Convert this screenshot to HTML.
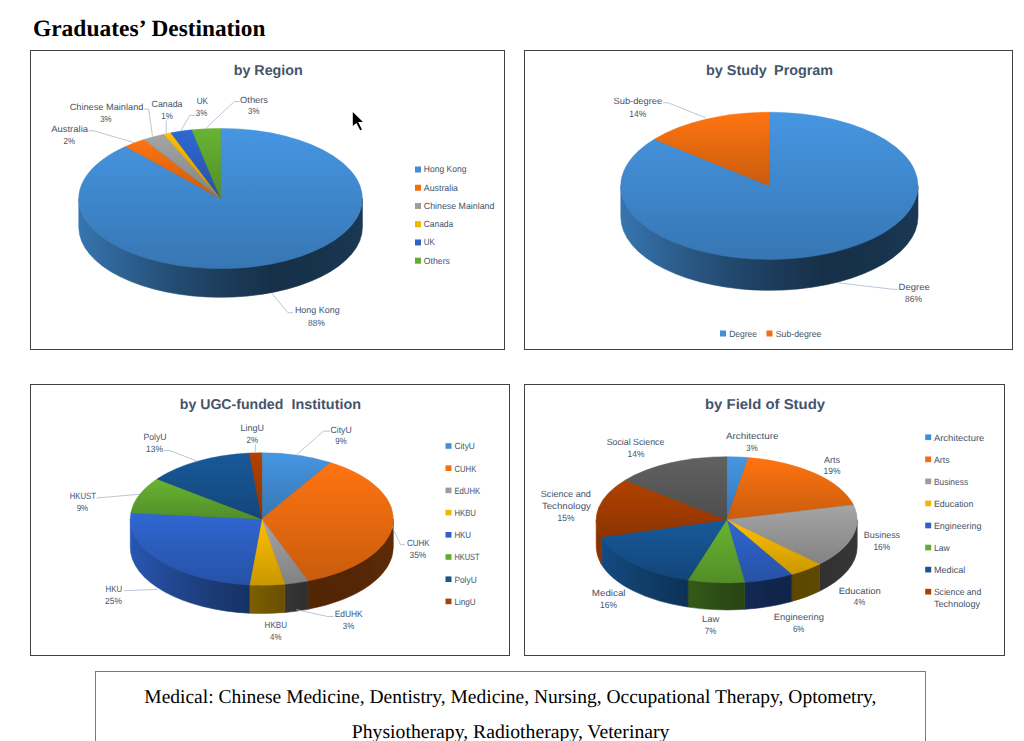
<!DOCTYPE html>
<html><head><meta charset="utf-8"><title>Graduates' Destination</title>
<style>
html,body{margin:0;padding:0;background:#fff;}
body{width:1024px;height:741px;overflow:hidden;font-family:"Liberation Sans",sans-serif;}
svg{display:block;}
text{white-space:pre;text-rendering:geometricPrecision;}
</style></head><body>
<svg width="1024" height="741" viewBox="0 0 1024 741">
<defs>
<linearGradient id="t1orange" x1="0" y1="0" x2="0" y2="1"><stop offset="0" stop-color="#ff7411"/><stop offset="1" stop-color="#c95c0d"/></linearGradient>
<linearGradient id="s1orange" gradientUnits="userSpaceOnUse" x1="78.79999999999998" y1="0" x2="362.4" y2="0"><stop offset="0.0" stop-color="#c75a0d"/><stop offset="0.15" stop-color="#a64b0b"/><stop offset="0.35" stop-color="#803a08"/><stop offset="0.5" stop-color="#693007"/><stop offset="0.68" stop-color="#522505"/><stop offset="0.85" stop-color="#542606"/><stop offset="1.0" stop-color="#5e2b06"/></linearGradient>
<linearGradient id="t1yellow" x1="0" y1="0" x2="0" y2="1"><stop offset="0" stop-color="#ffc000"/><stop offset="1" stop-color="#c99800"/></linearGradient>
<linearGradient id="s1yellow" gradientUnits="userSpaceOnUse" x1="78.79999999999998" y1="0" x2="362.4" y2="0"><stop offset="0.0" stop-color="#e1a900"/><stop offset="0.15" stop-color="#bb8d00"/><stop offset="0.35" stop-color="#906c00"/><stop offset="0.5" stop-color="#765900"/><stop offset="0.68" stop-color="#5c4500"/><stop offset="0.85" stop-color="#5f4800"/><stop offset="1.0" stop-color="#6b5000"/></linearGradient>
<linearGradient id="t1blue" x1="0" y1="0" x2="0" y2="1"><stop offset="0" stop-color="#4696e2"/><stop offset="1" stop-color="#3776b3"/></linearGradient>
<linearGradient id="s1blue" gradientUnits="userSpaceOnUse" x1="78.79999999999998" y1="0" x2="362.4" y2="0"><stop offset="0.0" stop-color="#3775b0"/><stop offset="0.15" stop-color="#2e6293"/><stop offset="0.35" stop-color="#234b71"/><stop offset="0.5" stop-color="#1d3d5d"/><stop offset="0.68" stop-color="#163048"/><stop offset="0.85" stop-color="#17324b"/><stop offset="1.0" stop-color="#1a3854"/></linearGradient>
<linearGradient id="t1green" x1="0" y1="0" x2="0" y2="1"><stop offset="0" stop-color="#68b432"/><stop offset="1" stop-color="#528e28"/></linearGradient>
<linearGradient id="s1green" gradientUnits="userSpaceOnUse" x1="78.79999999999998" y1="0" x2="362.4" y2="0"><stop offset="0.0" stop-color="#518c27"/><stop offset="0.15" stop-color="#447520"/><stop offset="0.35" stop-color="#345a19"/><stop offset="0.5" stop-color="#2b4a14"/><stop offset="0.68" stop-color="#213a10"/><stop offset="0.85" stop-color="#223b10"/><stop offset="1.0" stop-color="#264312"/></linearGradient>
<linearGradient id="t1blue2" x1="0" y1="0" x2="0" y2="1"><stop offset="0" stop-color="#3067d2"/><stop offset="1" stop-color="#2651a6"/></linearGradient>
<linearGradient id="s1blue2" gradientUnits="userSpaceOnUse" x1="78.79999999999998" y1="0" x2="362.4" y2="0"><stop offset="0.0" stop-color="#2857b1"/><stop offset="0.15" stop-color="#224893"/><stop offset="0.35" stop-color="#1a3871"/><stop offset="0.5" stop-color="#152e5d"/><stop offset="0.68" stop-color="#112449"/><stop offset="0.85" stop-color="#11254b"/><stop offset="1.0" stop-color="#132954"/></linearGradient>
<linearGradient id="t1gray" x1="0" y1="0" x2="0" y2="1"><stop offset="0" stop-color="#a5a5a5"/><stop offset="1" stop-color="#828282"/></linearGradient>
<linearGradient id="s1gray" gradientUnits="userSpaceOnUse" x1="78.79999999999998" y1="0" x2="362.4" y2="0"><stop offset="0.0" stop-color="#717171"/><stop offset="0.15" stop-color="#5e5e5e"/><stop offset="0.35" stop-color="#494949"/><stop offset="0.5" stop-color="#3c3c3c"/><stop offset="0.68" stop-color="#2e2e2e"/><stop offset="0.85" stop-color="#303030"/><stop offset="1.0" stop-color="#363636"/></linearGradient>
<linearGradient id="t2orange" x1="0" y1="0" x2="0" y2="1"><stop offset="0" stop-color="#ff7411"/><stop offset="1" stop-color="#c95c0d"/></linearGradient>
<linearGradient id="s2orange" gradientUnits="userSpaceOnUse" x1="620.8" y1="0" x2="918.0" y2="0"><stop offset="0.0" stop-color="#c75a0d"/><stop offset="0.15" stop-color="#a64b0b"/><stop offset="0.35" stop-color="#803a08"/><stop offset="0.5" stop-color="#693007"/><stop offset="0.68" stop-color="#522505"/><stop offset="0.85" stop-color="#542606"/><stop offset="1.0" stop-color="#5e2b06"/></linearGradient>
<linearGradient id="t2blue" x1="0" y1="0" x2="0" y2="1"><stop offset="0" stop-color="#4696e2"/><stop offset="1" stop-color="#3776b3"/></linearGradient>
<linearGradient id="s2blue" gradientUnits="userSpaceOnUse" x1="620.8" y1="0" x2="918.0" y2="0"><stop offset="0.0" stop-color="#3775b0"/><stop offset="0.15" stop-color="#2e6293"/><stop offset="0.35" stop-color="#234b71"/><stop offset="0.5" stop-color="#1d3d5d"/><stop offset="0.68" stop-color="#163048"/><stop offset="0.85" stop-color="#17324b"/><stop offset="1.0" stop-color="#1a3854"/></linearGradient>
<linearGradient id="t3orange" x1="0" y1="0" x2="0" y2="1"><stop offset="0" stop-color="#ff7411"/><stop offset="1" stop-color="#c95c0d"/></linearGradient>
<linearGradient id="s3orange" gradientUnits="userSpaceOnUse" x1="130.3" y1="0" x2="393.3" y2="0"><stop offset="0.0" stop-color="#c75a0d"/><stop offset="0.15" stop-color="#a64b0b"/><stop offset="0.35" stop-color="#803a08"/><stop offset="0.5" stop-color="#693007"/><stop offset="0.68" stop-color="#522505"/><stop offset="0.85" stop-color="#542606"/><stop offset="1.0" stop-color="#5e2b06"/></linearGradient>
<linearGradient id="t3dblue" x1="0" y1="0" x2="0" y2="1"><stop offset="0" stop-color="#18599a"/><stop offset="1" stop-color="#13467a"/></linearGradient>
<linearGradient id="s3dblue" gradientUnits="userSpaceOnUse" x1="130.3" y1="0" x2="393.3" y2="0"><stop offset="0.0" stop-color="#154c84"/><stop offset="0.15" stop-color="#11406e"/><stop offset="0.35" stop-color="#0d3155"/><stop offset="0.5" stop-color="#0b2845"/><stop offset="0.68" stop-color="#081f36"/><stop offset="0.85" stop-color="#092038"/><stop offset="1.0" stop-color="#0a243f"/></linearGradient>
<linearGradient id="t3yellow" x1="0" y1="0" x2="0" y2="1"><stop offset="0" stop-color="#ffc000"/><stop offset="1" stop-color="#c99800"/></linearGradient>
<linearGradient id="s3yellow" gradientUnits="userSpaceOnUse" x1="130.3" y1="0" x2="393.3" y2="0"><stop offset="0.0" stop-color="#e1a900"/><stop offset="0.15" stop-color="#bb8d00"/><stop offset="0.35" stop-color="#906c00"/><stop offset="0.5" stop-color="#765900"/><stop offset="0.68" stop-color="#5c4500"/><stop offset="0.85" stop-color="#5f4800"/><stop offset="1.0" stop-color="#6b5000"/></linearGradient>
<linearGradient id="t3dorange" x1="0" y1="0" x2="0" y2="1"><stop offset="0" stop-color="#b24200"/><stop offset="1" stop-color="#8d3400"/></linearGradient>
<linearGradient id="s3dorange" gradientUnits="userSpaceOnUse" x1="130.3" y1="0" x2="393.3" y2="0"><stop offset="0.0" stop-color="#8b3300"/><stop offset="0.15" stop-color="#742b00"/><stop offset="0.35" stop-color="#592100"/><stop offset="0.5" stop-color="#491b00"/><stop offset="0.68" stop-color="#391500"/><stop offset="0.85" stop-color="#3b1600"/><stop offset="1.0" stop-color="#421800"/></linearGradient>
<linearGradient id="t3blue" x1="0" y1="0" x2="0" y2="1"><stop offset="0" stop-color="#4696e2"/><stop offset="1" stop-color="#3776b3"/></linearGradient>
<linearGradient id="s3blue" gradientUnits="userSpaceOnUse" x1="130.3" y1="0" x2="393.3" y2="0"><stop offset="0.0" stop-color="#3775b0"/><stop offset="0.15" stop-color="#2e6293"/><stop offset="0.35" stop-color="#234b71"/><stop offset="0.5" stop-color="#1d3d5d"/><stop offset="0.68" stop-color="#163048"/><stop offset="0.85" stop-color="#17324b"/><stop offset="1.0" stop-color="#1a3854"/></linearGradient>
<linearGradient id="t3green" x1="0" y1="0" x2="0" y2="1"><stop offset="0" stop-color="#68b432"/><stop offset="1" stop-color="#528e28"/></linearGradient>
<linearGradient id="s3green" gradientUnits="userSpaceOnUse" x1="130.3" y1="0" x2="393.3" y2="0"><stop offset="0.0" stop-color="#518c27"/><stop offset="0.15" stop-color="#447520"/><stop offset="0.35" stop-color="#345a19"/><stop offset="0.5" stop-color="#2b4a14"/><stop offset="0.68" stop-color="#213a10"/><stop offset="0.85" stop-color="#223b10"/><stop offset="1.0" stop-color="#264312"/></linearGradient>
<linearGradient id="t3blue2" x1="0" y1="0" x2="0" y2="1"><stop offset="0" stop-color="#3067d2"/><stop offset="1" stop-color="#2651a6"/></linearGradient>
<linearGradient id="s3blue2" gradientUnits="userSpaceOnUse" x1="130.3" y1="0" x2="393.3" y2="0"><stop offset="0.0" stop-color="#2857b1"/><stop offset="0.15" stop-color="#224893"/><stop offset="0.35" stop-color="#1a3871"/><stop offset="0.5" stop-color="#152e5d"/><stop offset="0.68" stop-color="#112449"/><stop offset="0.85" stop-color="#11254b"/><stop offset="1.0" stop-color="#132954"/></linearGradient>
<linearGradient id="t3gray" x1="0" y1="0" x2="0" y2="1"><stop offset="0" stop-color="#a5a5a5"/><stop offset="1" stop-color="#828282"/></linearGradient>
<linearGradient id="s3gray" gradientUnits="userSpaceOnUse" x1="130.3" y1="0" x2="393.3" y2="0"><stop offset="0.0" stop-color="#717171"/><stop offset="0.15" stop-color="#5e5e5e"/><stop offset="0.35" stop-color="#494949"/><stop offset="0.5" stop-color="#3c3c3c"/><stop offset="0.68" stop-color="#2e2e2e"/><stop offset="0.85" stop-color="#303030"/><stop offset="1.0" stop-color="#363636"/></linearGradient>
<linearGradient id="t4orange" x1="0" y1="0" x2="0" y2="1"><stop offset="0" stop-color="#ff7411"/><stop offset="1" stop-color="#c95c0d"/></linearGradient>
<linearGradient id="s4orange" gradientUnits="userSpaceOnUse" x1="596.2" y1="0" x2="857.2" y2="0"><stop offset="0.0" stop-color="#c75a0d"/><stop offset="0.15" stop-color="#a64b0b"/><stop offset="0.35" stop-color="#803a08"/><stop offset="0.5" stop-color="#693007"/><stop offset="0.68" stop-color="#522505"/><stop offset="0.85" stop-color="#542606"/><stop offset="1.0" stop-color="#5e2b06"/></linearGradient>
<linearGradient id="t4dblue" x1="0" y1="0" x2="0" y2="1"><stop offset="0" stop-color="#18599a"/><stop offset="1" stop-color="#13467a"/></linearGradient>
<linearGradient id="s4dblue" gradientUnits="userSpaceOnUse" x1="596.2" y1="0" x2="857.2" y2="0"><stop offset="0.0" stop-color="#154c84"/><stop offset="0.15" stop-color="#11406e"/><stop offset="0.35" stop-color="#0d3155"/><stop offset="0.5" stop-color="#0b2845"/><stop offset="0.68" stop-color="#081f36"/><stop offset="0.85" stop-color="#092038"/><stop offset="1.0" stop-color="#0a243f"/></linearGradient>
<linearGradient id="t4dgray" x1="0" y1="0" x2="0" y2="1"><stop offset="0" stop-color="#616161"/><stop offset="1" stop-color="#4d4d4d"/></linearGradient>
<linearGradient id="s4dgray" gradientUnits="userSpaceOnUse" x1="596.2" y1="0" x2="857.2" y2="0"><stop offset="0.0" stop-color="#4c4c4c"/><stop offset="0.15" stop-color="#3f3f3f"/><stop offset="0.35" stop-color="#303030"/><stop offset="0.5" stop-color="#282828"/><stop offset="0.68" stop-color="#1f1f1f"/><stop offset="0.85" stop-color="#202020"/><stop offset="1.0" stop-color="#242424"/></linearGradient>
<linearGradient id="t4yellow" x1="0" y1="0" x2="0" y2="1"><stop offset="0" stop-color="#ffc000"/><stop offset="1" stop-color="#c99800"/></linearGradient>
<linearGradient id="s4yellow" gradientUnits="userSpaceOnUse" x1="596.2" y1="0" x2="857.2" y2="0"><stop offset="0.0" stop-color="#e1a900"/><stop offset="0.15" stop-color="#bb8d00"/><stop offset="0.35" stop-color="#906c00"/><stop offset="0.5" stop-color="#765900"/><stop offset="0.68" stop-color="#5c4500"/><stop offset="0.85" stop-color="#5f4800"/><stop offset="1.0" stop-color="#6b5000"/></linearGradient>
<linearGradient id="t4dorange" x1="0" y1="0" x2="0" y2="1"><stop offset="0" stop-color="#b24200"/><stop offset="1" stop-color="#8d3400"/></linearGradient>
<linearGradient id="s4dorange" gradientUnits="userSpaceOnUse" x1="596.2" y1="0" x2="857.2" y2="0"><stop offset="0.0" stop-color="#8b3300"/><stop offset="0.15" stop-color="#742b00"/><stop offset="0.35" stop-color="#592100"/><stop offset="0.5" stop-color="#491b00"/><stop offset="0.68" stop-color="#391500"/><stop offset="0.85" stop-color="#3b1600"/><stop offset="1.0" stop-color="#421800"/></linearGradient>
<linearGradient id="t4blue" x1="0" y1="0" x2="0" y2="1"><stop offset="0" stop-color="#4696e2"/><stop offset="1" stop-color="#3776b3"/></linearGradient>
<linearGradient id="s4blue" gradientUnits="userSpaceOnUse" x1="596.2" y1="0" x2="857.2" y2="0"><stop offset="0.0" stop-color="#3775b0"/><stop offset="0.15" stop-color="#2e6293"/><stop offset="0.35" stop-color="#234b71"/><stop offset="0.5" stop-color="#1d3d5d"/><stop offset="0.68" stop-color="#163048"/><stop offset="0.85" stop-color="#17324b"/><stop offset="1.0" stop-color="#1a3854"/></linearGradient>
<linearGradient id="t4green" x1="0" y1="0" x2="0" y2="1"><stop offset="0" stop-color="#68b432"/><stop offset="1" stop-color="#528e28"/></linearGradient>
<linearGradient id="s4green" gradientUnits="userSpaceOnUse" x1="596.2" y1="0" x2="857.2" y2="0"><stop offset="0.0" stop-color="#518c27"/><stop offset="0.15" stop-color="#447520"/><stop offset="0.35" stop-color="#345a19"/><stop offset="0.5" stop-color="#2b4a14"/><stop offset="0.68" stop-color="#213a10"/><stop offset="0.85" stop-color="#223b10"/><stop offset="1.0" stop-color="#264312"/></linearGradient>
<linearGradient id="t4blue2" x1="0" y1="0" x2="0" y2="1"><stop offset="0" stop-color="#3067d2"/><stop offset="1" stop-color="#2651a6"/></linearGradient>
<linearGradient id="s4blue2" gradientUnits="userSpaceOnUse" x1="596.2" y1="0" x2="857.2" y2="0"><stop offset="0.0" stop-color="#2857b1"/><stop offset="0.15" stop-color="#224893"/><stop offset="0.35" stop-color="#1a3871"/><stop offset="0.5" stop-color="#152e5d"/><stop offset="0.68" stop-color="#112449"/><stop offset="0.85" stop-color="#11254b"/><stop offset="1.0" stop-color="#132954"/></linearGradient>
<linearGradient id="t4gray" x1="0" y1="0" x2="0" y2="1"><stop offset="0" stop-color="#a5a5a5"/><stop offset="1" stop-color="#828282"/></linearGradient>
<linearGradient id="s4gray" gradientUnits="userSpaceOnUse" x1="596.2" y1="0" x2="857.2" y2="0"><stop offset="0.0" stop-color="#717171"/><stop offset="0.15" stop-color="#5e5e5e"/><stop offset="0.35" stop-color="#494949"/><stop offset="0.5" stop-color="#3c3c3c"/><stop offset="0.68" stop-color="#2e2e2e"/><stop offset="0.85" stop-color="#303030"/><stop offset="1.0" stop-color="#363636"/></linearGradient>
</defs>
<rect x="30.5" y="50.5" width="474" height="299" fill="#fff" stroke="#404040" stroke-width="1"/>
<rect x="524.5" y="50.5" width="488" height="299" fill="#fff" stroke="#404040" stroke-width="1"/>
<rect x="30.5" y="384.5" width="479" height="271" fill="#fff" stroke="#404040" stroke-width="1"/>
<rect x="524.5" y="384.5" width="480" height="271" fill="#fff" stroke="#404040" stroke-width="1"/>
<rect x="95.5" y="671.5" width="830" height="89" fill="#fff" stroke="#7a7a7a" stroke-width="1"/>
<text x="32.9" y="35.9" font-size="23.5" text-anchor="start" fill="#000" font-family="'Liberation Serif', sans-serif" font-weight="bold">Graduates’</text>
<text x="151.5" y="35.9" font-size="23.3" text-anchor="start" fill="#000" font-family="'Liberation Serif', sans-serif" font-weight="bold">Destination</text>
<text x="144.3" y="703.3" font-size="19.5" text-anchor="start" fill="#000" font-family="'Liberation Serif', sans-serif" textLength="732.1" lengthAdjust="spacingAndGlyphs">Medical: Chinese Medicine, Dentistry, Medicine, Nursing, Occupational Therapy, Optometry,</text>
<text x="351.8" y="738.3" font-size="19.5" text-anchor="start" fill="#000" font-family="'Liberation Serif', sans-serif" textLength="317.6" lengthAdjust="spacingAndGlyphs">Physiotherapy, Radiotherapy, Veterinary</text>
<text x="233.7" y="75.0" font-size="14.2" text-anchor="start" fill="#44546A" font-family="'Liberation Sans', sans-serif" textLength="69.1" lengthAdjust="spacingAndGlyphs" font-weight="bold">by Region</text>
<g id="pie1"><path d="M362.40,198.50 A141.8,68.6 0 0 1 78.80,198.50 L78.80,227.20 A141.8,70.1 0 0 0 362.40,227.20 Z" fill="url(#s1blue)" stroke="url(#s1blue)" stroke-width="0.6"/><ellipse cx="220.6" cy="198.5" rx="141.20000000000002" ry="69.5" fill="#4a4a4a"/><path d="M220.6,198.5 L220.60,128.40 A141.8,70.1 0 1 1 125.50,146.50 Z" fill="url(#t1blue)" stroke="url(#t1blue)" stroke-width="0.5" stroke-linejoin="round"/><path d="M220.6,198.5 L125.50,146.50 A141.8,70.1 0 0 1 143.87,139.55 Z" fill="url(#t1orange)" stroke="url(#t1orange)" stroke-width="0.5" stroke-linejoin="round"/><path d="M220.6,198.5 L143.87,139.55 A141.8,70.1 0 0 1 163.88,134.25 Z" fill="url(#t1gray)" stroke="url(#t1gray)" stroke-width="0.5" stroke-linejoin="round"/><path d="M220.6,198.5 L163.88,134.25 A141.8,70.1 0 0 1 170.89,132.85 Z" fill="url(#t1yellow)" stroke="url(#t1yellow)" stroke-width="0.5" stroke-linejoin="round"/><path d="M220.6,198.5 L170.89,132.85 A141.8,70.1 0 0 1 191.84,129.86 Z" fill="url(#t1blue2)" stroke="url(#t1blue2)" stroke-width="0.5" stroke-linejoin="round"/><path d="M220.6,198.5 L191.84,129.86 A141.8,70.1 0 0 1 220.60,128.40 Z" fill="url(#t1green)" stroke="url(#t1green)" stroke-width="0.5" stroke-linejoin="round"/></g>
<text x="69.7" y="110.1" font-size="9" text-anchor="start" fill="#44546A" font-family="'Liberation Sans', sans-serif" textLength="73.7" lengthAdjust="spacingAndGlyphs">Chinese Mainland</text>
<text x="100.2" y="121.5" font-size="9" text-anchor="start" fill="#44546A" font-family="'Liberation Sans', sans-serif" textLength="11.4" lengthAdjust="spacingAndGlyphs">3%</text>
<text x="51.2" y="132.4" font-size="9" text-anchor="start" fill="#44546A" font-family="'Liberation Sans', sans-serif" textLength="36.8" lengthAdjust="spacingAndGlyphs">Australia</text>
<text x="63.5" y="144.4" font-size="9" text-anchor="start" fill="#44546A" font-family="'Liberation Sans', sans-serif" textLength="11.4" lengthAdjust="spacingAndGlyphs">2%</text>
<text x="151.5" y="106.8" font-size="9" text-anchor="start" fill="#44546A" font-family="'Liberation Sans', sans-serif" textLength="31.0" lengthAdjust="spacingAndGlyphs">Canada</text>
<text x="161.3" y="118.5" font-size="9" text-anchor="start" fill="#44546A" font-family="'Liberation Sans', sans-serif" textLength="11.4" lengthAdjust="spacingAndGlyphs">1%</text>
<text x="196.7" y="104.3" font-size="9" text-anchor="start" fill="#44546A" font-family="'Liberation Sans', sans-serif" textLength="11.2" lengthAdjust="spacingAndGlyphs">UK</text>
<text x="195.8" y="116.2" font-size="9" text-anchor="start" fill="#44546A" font-family="'Liberation Sans', sans-serif" textLength="11.4" lengthAdjust="spacingAndGlyphs">3%</text>
<text x="240.1" y="102.5" font-size="9" text-anchor="start" fill="#44546A" font-family="'Liberation Sans', sans-serif" textLength="27.9" lengthAdjust="spacingAndGlyphs">Others</text>
<text x="248.1" y="113.9" font-size="9" text-anchor="start" fill="#44546A" font-family="'Liberation Sans', sans-serif" textLength="11.4" lengthAdjust="spacingAndGlyphs">3%</text>
<text x="294.9" y="313.4" font-size="9" text-anchor="start" fill="#44546A" font-family="'Liberation Sans', sans-serif" textLength="44.8" lengthAdjust="spacingAndGlyphs">Hong Kong</text>
<text x="308.1" y="325.5" font-size="9" text-anchor="start" fill="#44546A" font-family="'Liberation Sans', sans-serif" textLength="16.8" lengthAdjust="spacingAndGlyphs">88%</text>
<path d="M144.2,109.1 L148.7,109.1 L152.5,136.3" fill="none" stroke="#A9B7CB" stroke-width="0.8"/>
<path d="M88.6,130.7 L93.3,130.7 L134.0,142.6" fill="none" stroke="#A9B7CB" stroke-width="0.8"/>
<path d="M166.2,120.5 L166.2,133.7" fill="none" stroke="#A9B7CB" stroke-width="0.8"/>
<path d="M195.4,115.4 L189.8,115.4 L180.4,131.2" fill="none" stroke="#A9B7CB" stroke-width="0.8"/>
<path d="M239.6,101.5 L234.3,101.5 L206.3,127.9" fill="none" stroke="#A9B7CB" stroke-width="0.8"/>
<path d="M293.2,312.8 L288.1,312.8 L271.7,293.1" fill="none" stroke="#A9B7CB" stroke-width="0.8"/>
<rect x="415" y="166.5" width="6" height="6" fill="#428ed7"/>
<text x="423.8" y="172.3" font-size="9" text-anchor="start" fill="#44546A" font-family="'Liberation Sans', sans-serif" textLength="42.6" lengthAdjust="spacingAndGlyphs">Hong Kong</text>
<rect x="415" y="184.74" width="6" height="6" fill="#f26e10"/>
<text x="423.8" y="190.5" font-size="9" text-anchor="start" fill="#44546A" font-family="'Liberation Sans', sans-serif" textLength="34.2" lengthAdjust="spacingAndGlyphs">Australia</text>
<rect x="415" y="202.98" width="6" height="6" fill="#9d9d9d"/>
<text x="423.8" y="208.8" font-size="9" text-anchor="start" fill="#44546A" font-family="'Liberation Sans', sans-serif" textLength="70.6" lengthAdjust="spacingAndGlyphs">Chinese Mainland</text>
<rect x="415" y="221.22" width="6" height="6" fill="#f2b600"/>
<text x="423.8" y="227.0" font-size="9" text-anchor="start" fill="#44546A" font-family="'Liberation Sans', sans-serif" textLength="29.3" lengthAdjust="spacingAndGlyphs">Canada</text>
<rect x="415" y="239.45999999999998" width="6" height="6" fill="#2e62c8"/>
<text x="423.8" y="245.3" font-size="9" text-anchor="start" fill="#44546A" font-family="'Liberation Sans', sans-serif" textLength="11.0" lengthAdjust="spacingAndGlyphs">UK</text>
<rect x="415" y="257.7" width="6" height="6" fill="#63ab30"/>
<text x="423.8" y="263.5" font-size="9" text-anchor="start" fill="#44546A" font-family="'Liberation Sans', sans-serif" textLength="26.1" lengthAdjust="spacingAndGlyphs">Others</text>
<text x="706.0" y="75.3" font-size="14.2" text-anchor="start" fill="#44546A" font-family="'Liberation Sans', sans-serif" textLength="60.8" lengthAdjust="spacingAndGlyphs" font-weight="bold">by Study</text>
<text x="774.1" y="75.3" font-size="14.2" text-anchor="start" fill="#44546A" font-family="'Liberation Sans', sans-serif" textLength="59.0" lengthAdjust="spacingAndGlyphs" font-weight="bold">Program</text>
<g id="pie2"><path d="M918.00,185.80 A148.6,72.1 0 0 1 620.80,185.80 L620.80,216.80 A148.6,73.6 0 0 0 918.00,216.80 Z" fill="url(#s2blue)" stroke="url(#s2blue)" stroke-width="0.6"/><ellipse cx="769.4" cy="185.8" rx="148.0" ry="73.0" fill="#4a4a4a"/><path d="M769.4,185.8 L769.40,112.20 A148.6,73.6 0 1 1 654.31,139.24 Z" fill="url(#t2blue)" stroke="url(#t2blue)" stroke-width="0.5" stroke-linejoin="round"/><path d="M769.4,185.8 L654.31,139.24 A148.6,73.6 0 0 1 769.40,112.20 Z" fill="url(#t2orange)" stroke="url(#t2orange)" stroke-width="0.5" stroke-linejoin="round"/></g>
<text x="613.5" y="104.0" font-size="9" text-anchor="start" fill="#44546A" font-family="'Liberation Sans', sans-serif" textLength="48.7" lengthAdjust="spacingAndGlyphs">Sub-degree</text>
<text x="629.3" y="116.7" font-size="9" text-anchor="start" fill="#44546A" font-family="'Liberation Sans', sans-serif" textLength="16.8" lengthAdjust="spacingAndGlyphs">14%</text>
<text x="898.6" y="289.8" font-size="9" text-anchor="start" fill="#44546A" font-family="'Liberation Sans', sans-serif" textLength="31.2" lengthAdjust="spacingAndGlyphs">Degree</text>
<text x="905.1" y="302.2" font-size="9" text-anchor="start" fill="#44546A" font-family="'Liberation Sans', sans-serif" textLength="16.8" lengthAdjust="spacingAndGlyphs">86%</text>
<path d="M662.9,102.7 L668.0,102.7 L705.4,117.7" fill="none" stroke="#A9B7CB" stroke-width="0.8"/>
<path d="M897.6,289.3 L893.0,289.3 L837.1,282.7" fill="none" stroke="#A9B7CB" stroke-width="0.8"/>
<rect x="720" y="330.5" width="6" height="6" fill="#428ed7"/>
<text x="729.2" y="336.5" font-size="9" text-anchor="start" fill="#44546A" font-family="'Liberation Sans', sans-serif" textLength="27.9" lengthAdjust="spacingAndGlyphs">Degree</text>
<rect x="766.5" y="330.5" width="6" height="6" fill="#f26e10"/>
<text x="775.7" y="336.5" font-size="9" text-anchor="start" fill="#44546A" font-family="'Liberation Sans', sans-serif" textLength="45.7" lengthAdjust="spacingAndGlyphs">Sub-degree</text>
<text x="179.8" y="409.1" font-size="14.2" text-anchor="start" fill="#44546A" font-family="'Liberation Sans', sans-serif" textLength="103.5" lengthAdjust="spacingAndGlyphs" font-weight="bold">by UGC-funded</text>
<text x="291.5" y="409.1" font-size="14.2" text-anchor="start" fill="#44546A" font-family="'Liberation Sans', sans-serif" textLength="69.5" lengthAdjust="spacingAndGlyphs" font-weight="bold">Institution</text>
<g id="pie3"><path d="M393.30,519.00 A131.5,64.7 0 0 1 307.90,579.59 L307.90,609.30 A131.5,66.2 0 0 0 393.30,547.30 Z" fill="url(#s3orange)" stroke="url(#s3orange)" stroke-width="0.6"/><path d="M307.90,579.59 A131.5,64.7 0 0 1 284.82,582.70 L284.82,612.48 A131.5,66.2 0 0 0 307.90,609.30 Z" fill="url(#s3gray)" stroke="url(#s3gray)" stroke-width="0.6"/><path d="M284.82,582.70 A131.5,64.7 0 0 1 249.42,583.41 L249.42,613.21 A131.5,66.2 0 0 0 284.82,612.48 Z" fill="url(#s3yellow)" stroke="url(#s3yellow)" stroke-width="0.6"/><path d="M249.42,583.41 A131.5,64.7 0 0 1 130.30,519.00 L130.30,547.30 A131.5,66.2 0 0 0 249.42,613.21 Z" fill="url(#s3blue2)" stroke="url(#s3blue2)" stroke-width="0.6"/><ellipse cx="261.8" cy="519.0" rx="130.9" ry="65.60000000000001" fill="#4a4a4a"/><path d="M261.8,519.0 L261.80,452.80 A131.5,66.2 0 0 1 330.51,462.56 Z" fill="url(#t3blue)" stroke="url(#t3blue)" stroke-width="0.5" stroke-linejoin="round"/><path d="M261.8,519.0 L330.51,462.56 A131.5,66.2 0 0 1 307.90,581.00 Z" fill="url(#t3orange)" stroke="url(#t3orange)" stroke-width="0.5" stroke-linejoin="round"/><path d="M261.8,519.0 L307.90,581.00 A131.5,66.2 0 0 1 284.82,584.18 Z" fill="url(#t3gray)" stroke="url(#t3gray)" stroke-width="0.5" stroke-linejoin="round"/><path d="M261.8,519.0 L284.82,584.18 A131.5,66.2 0 0 1 249.42,584.91 Z" fill="url(#t3yellow)" stroke="url(#t3yellow)" stroke-width="0.5" stroke-linejoin="round"/><path d="M261.8,519.0 L249.42,584.91 A131.5,66.2 0 0 1 130.86,512.89 Z" fill="url(#t3blue2)" stroke="url(#t3blue2)" stroke-width="0.5" stroke-linejoin="round"/><path d="M261.8,519.0 L130.86,512.89 A131.5,66.2 0 0 1 157.04,478.99 Z" fill="url(#t3green)" stroke="url(#t3green)" stroke-width="0.5" stroke-linejoin="round"/><path d="M261.8,519.0 L157.04,478.99 A131.5,66.2 0 0 1 249.42,453.09 Z" fill="url(#t3dblue)" stroke="url(#t3dblue)" stroke-width="0.5" stroke-linejoin="round"/><path d="M261.8,519.0 L249.42,453.09 A131.5,66.2 0 0 1 261.80,452.80 Z" fill="url(#t3dorange)" stroke="url(#t3dorange)" stroke-width="0.5" stroke-linejoin="round"/></g>
<text x="143.4" y="439.5" font-size="9" text-anchor="start" fill="#44546A" font-family="'Liberation Sans', sans-serif" textLength="23.2" lengthAdjust="spacingAndGlyphs">PolyU</text>
<text x="146.1" y="451.9" font-size="9" text-anchor="start" fill="#44546A" font-family="'Liberation Sans', sans-serif" textLength="16.8" lengthAdjust="spacingAndGlyphs">13%</text>
<text x="240.6" y="430.6" font-size="9" text-anchor="start" fill="#44546A" font-family="'Liberation Sans', sans-serif" textLength="23.4" lengthAdjust="spacingAndGlyphs">LingU</text>
<text x="246.5" y="442.5" font-size="9" text-anchor="start" fill="#44546A" font-family="'Liberation Sans', sans-serif" textLength="11.4" lengthAdjust="spacingAndGlyphs">2%</text>
<text x="330.6" y="432.8" font-size="9" text-anchor="start" fill="#44546A" font-family="'Liberation Sans', sans-serif" textLength="21.0" lengthAdjust="spacingAndGlyphs">CityU</text>
<text x="335.3" y="444.4" font-size="9" text-anchor="start" fill="#44546A" font-family="'Liberation Sans', sans-serif" textLength="11.4" lengthAdjust="spacingAndGlyphs">9%</text>
<text x="69.8" y="498.7" font-size="9" text-anchor="start" fill="#44546A" font-family="'Liberation Sans', sans-serif" textLength="26.1" lengthAdjust="spacingAndGlyphs">HKUST</text>
<text x="76.7" y="510.9" font-size="9" text-anchor="start" fill="#44546A" font-family="'Liberation Sans', sans-serif" textLength="11.4" lengthAdjust="spacingAndGlyphs">9%</text>
<text x="105.5" y="591.7" font-size="9" text-anchor="start" fill="#44546A" font-family="'Liberation Sans', sans-serif" textLength="16.6" lengthAdjust="spacingAndGlyphs">HKU</text>
<text x="105.1" y="603.8" font-size="9" text-anchor="start" fill="#44546A" font-family="'Liberation Sans', sans-serif" textLength="16.8" lengthAdjust="spacingAndGlyphs">25%</text>
<text x="407.1" y="545.6" font-size="9" text-anchor="start" fill="#44546A" font-family="'Liberation Sans', sans-serif" textLength="22.6" lengthAdjust="spacingAndGlyphs">CUHK</text>
<text x="409.5" y="557.6" font-size="9" text-anchor="start" fill="#44546A" font-family="'Liberation Sans', sans-serif" textLength="16.8" lengthAdjust="spacingAndGlyphs">35%</text>
<text x="334.7" y="616.7" font-size="9" text-anchor="start" fill="#44546A" font-family="'Liberation Sans', sans-serif" textLength="28.0" lengthAdjust="spacingAndGlyphs">EdUHK</text>
<text x="342.8" y="628.7" font-size="9" text-anchor="start" fill="#44546A" font-family="'Liberation Sans', sans-serif" textLength="11.4" lengthAdjust="spacingAndGlyphs">3%</text>
<text x="264.6" y="627.7" font-size="9" text-anchor="start" fill="#44546A" font-family="'Liberation Sans', sans-serif" textLength="22.4" lengthAdjust="spacingAndGlyphs">HKBU</text>
<text x="270.0" y="639.6" font-size="9" text-anchor="start" fill="#44546A" font-family="'Liberation Sans', sans-serif" textLength="11.4" lengthAdjust="spacingAndGlyphs">4%</text>
<path d="M163.4,450.6 L170.0,450.6 L196.6,460.9" fill="none" stroke="#A9B7CB" stroke-width="0.8"/>
<path d="M255.3,444.4 L255.3,452.2" fill="none" stroke="#A9B7CB" stroke-width="0.8"/>
<path d="M330.0,431.2 L323.4,431.2 L296.9,454.4" fill="none" stroke="#A9B7CB" stroke-width="0.8"/>
<path d="M96.7,498.0 L139.1,494.3" fill="none" stroke="#A9B7CB" stroke-width="0.8"/>
<path d="M124.1,590.7 L157.7,589.4" fill="none" stroke="#A9B7CB" stroke-width="0.8"/>
<path d="M405.0,544.6 L400.5,544.6 L391.9,526.3" fill="none" stroke="#A9B7CB" stroke-width="0.8"/>
<path d="M333.4,616.5 L327.6,616.5 L296.4,609.6" fill="none" stroke="#A9B7CB" stroke-width="0.8"/>
<rect x="445.5" y="443.2" width="6" height="5.6" fill="#428ed7"/>
<text x="454.4" y="449.3" font-size="9" text-anchor="start" fill="#44546A" font-family="'Liberation Sans', sans-serif" textLength="20.5" lengthAdjust="spacingAndGlyphs">CityU</text>
<rect x="445.5" y="465.4" width="6" height="5.6" fill="#f26e10"/>
<text x="454.4" y="471.5" font-size="9" text-anchor="start" fill="#44546A" font-family="'Liberation Sans', sans-serif" textLength="21.9" lengthAdjust="spacingAndGlyphs">CUHK</text>
<rect x="445.5" y="487.59999999999997" width="6" height="5.6" fill="#9d9d9d"/>
<text x="454.4" y="493.7" font-size="9" text-anchor="start" fill="#44546A" font-family="'Liberation Sans', sans-serif" textLength="25.8" lengthAdjust="spacingAndGlyphs">EdUHK</text>
<rect x="445.5" y="509.79999999999995" width="6" height="5.6" fill="#f2b600"/>
<text x="454.4" y="515.9" font-size="9" text-anchor="start" fill="#44546A" font-family="'Liberation Sans', sans-serif" textLength="21.5" lengthAdjust="spacingAndGlyphs">HKBU</text>
<rect x="445.5" y="532.0" width="6" height="5.6" fill="#2e62c8"/>
<text x="454.4" y="538.1" font-size="9" text-anchor="start" fill="#44546A" font-family="'Liberation Sans', sans-serif" textLength="16.7" lengthAdjust="spacingAndGlyphs">HKU</text>
<rect x="445.5" y="554.1999999999999" width="6" height="5.6" fill="#63ab30"/>
<text x="454.4" y="560.3" font-size="9" text-anchor="start" fill="#44546A" font-family="'Liberation Sans', sans-serif" textLength="25.1" lengthAdjust="spacingAndGlyphs">HKUST</text>
<rect x="445.5" y="576.4" width="6" height="5.6" fill="#175592"/>
<text x="454.4" y="582.5" font-size="9" text-anchor="start" fill="#44546A" font-family="'Liberation Sans', sans-serif" textLength="22.3" lengthAdjust="spacingAndGlyphs">PolyU</text>
<rect x="445.5" y="598.6" width="6" height="5.6" fill="#a93f00"/>
<text x="454.4" y="604.7" font-size="9" text-anchor="start" fill="#44546A" font-family="'Liberation Sans', sans-serif" textLength="21.2" lengthAdjust="spacingAndGlyphs">LingU</text>
<text x="705.0" y="409.0" font-size="14.2" text-anchor="start" fill="#44546A" font-family="'Liberation Sans', sans-serif" textLength="120.1" lengthAdjust="spacingAndGlyphs" font-weight="bold">by Field of Study</text>
<g id="pie4"><path d="M857.20,519.80 A130.5,61.6 0 0 1 819.56,563.08 L819.56,591.14 A130.5,63.1 0 0 0 857.20,546.80 Z" fill="url(#s4gray)" stroke="url(#s4gray)" stroke-width="0.6"/><path d="M819.56,563.08 A130.5,61.6 0 0 1 791.71,573.21 L791.71,601.51 A130.5,63.1 0 0 0 819.56,591.14 Z" fill="url(#s4yellow)" stroke="url(#s4yellow)" stroke-width="0.6"/><path d="M791.71,573.21 A130.5,61.6 0 0 1 744.68,580.81 L744.68,609.30 A130.5,63.1 0 0 0 791.71,601.51 Z" fill="url(#s4blue2)" stroke="url(#s4blue2)" stroke-width="0.6"/><path d="M744.68,580.81 A130.5,61.6 0 0 1 687.94,578.62 L687.94,607.05 A130.5,63.1 0 0 0 744.68,609.30 Z" fill="url(#s4green)" stroke="url(#s4green)" stroke-width="0.6"/><path d="M687.94,578.62 A130.5,61.6 0 0 1 601.16,536.61 L601.16,564.02 A130.5,63.1 0 0 0 687.94,607.05 Z" fill="url(#s4dblue)" stroke="url(#s4dblue)" stroke-width="0.6"/><path d="M601.16,536.61 A130.5,61.6 0 0 1 596.20,519.80 L596.20,546.80 A130.5,63.1 0 0 0 601.16,564.02 Z" fill="url(#s4dorange)" stroke="url(#s4dorange)" stroke-width="0.6"/><ellipse cx="726.7" cy="519.8" rx="129.9" ry="62.5" fill="#4a4a4a"/><path d="M726.7,519.8 L726.70,456.70 A130.5,63.1 0 0 1 748.33,457.57 Z" fill="url(#t4blue)" stroke="url(#t4blue)" stroke-width="0.5" stroke-linejoin="round"/><path d="M726.7,519.8 L748.33,457.57 A130.5,63.1 0 0 1 853.50,504.88 Z" fill="url(#t4orange)" stroke="url(#t4orange)" stroke-width="0.5" stroke-linejoin="round"/><path d="M726.7,519.8 L853.50,504.88 A130.5,63.1 0 0 1 819.56,564.14 Z" fill="url(#t4gray)" stroke="url(#t4gray)" stroke-width="0.5" stroke-linejoin="round"/><path d="M726.7,519.8 L819.56,564.14 A130.5,63.1 0 0 1 791.71,574.51 Z" fill="url(#t4yellow)" stroke="url(#t4yellow)" stroke-width="0.5" stroke-linejoin="round"/><path d="M726.7,519.8 L791.71,574.51 A130.5,63.1 0 0 1 744.68,582.30 Z" fill="url(#t4blue2)" stroke="url(#t4blue2)" stroke-width="0.5" stroke-linejoin="round"/><path d="M726.7,519.8 L744.68,582.30 A130.5,63.1 0 0 1 687.94,580.05 Z" fill="url(#t4green)" stroke="url(#t4green)" stroke-width="0.5" stroke-linejoin="round"/><path d="M726.7,519.8 L687.94,580.05 A130.5,63.1 0 0 1 601.16,537.02 Z" fill="url(#t4dblue)" stroke="url(#t4dblue)" stroke-width="0.5" stroke-linejoin="round"/><path d="M726.7,519.8 L601.16,537.02 A130.5,63.1 0 0 1 625.11,480.19 Z" fill="url(#t4dorange)" stroke="url(#t4dorange)" stroke-width="0.5" stroke-linejoin="round"/><path d="M726.7,519.8 L625.11,480.19 A130.5,63.1 0 0 1 726.70,456.70 Z" fill="url(#t4dgray)" stroke="url(#t4dgray)" stroke-width="0.5" stroke-linejoin="round"/></g>
<text x="606.7" y="445.3" font-size="9" text-anchor="start" fill="#44546A" font-family="'Liberation Sans', sans-serif" textLength="57.7" lengthAdjust="spacingAndGlyphs">Social Science</text>
<text x="627.6" y="457.2" font-size="9" text-anchor="start" fill="#44546A" font-family="'Liberation Sans', sans-serif" textLength="16.8" lengthAdjust="spacingAndGlyphs">14%</text>
<text x="725.9" y="439.1" font-size="9" text-anchor="start" fill="#44546A" font-family="'Liberation Sans', sans-serif" textLength="52.6" lengthAdjust="spacingAndGlyphs">Architecture</text>
<text x="746.3" y="451.4" font-size="9" text-anchor="start" fill="#44546A" font-family="'Liberation Sans', sans-serif" textLength="11.4" lengthAdjust="spacingAndGlyphs">3%</text>
<text x="823.9" y="462.7" font-size="9" text-anchor="start" fill="#44546A" font-family="'Liberation Sans', sans-serif" textLength="16.1" lengthAdjust="spacingAndGlyphs">Arts</text>
<text x="823.6" y="474.3" font-size="9" text-anchor="start" fill="#44546A" font-family="'Liberation Sans', sans-serif" textLength="16.8" lengthAdjust="spacingAndGlyphs">19%</text>
<text x="863.8" y="537.6" font-size="9" text-anchor="start" fill="#44546A" font-family="'Liberation Sans', sans-serif" textLength="36.3" lengthAdjust="spacingAndGlyphs">Business</text>
<text x="873.4" y="550.1" font-size="9" text-anchor="start" fill="#44546A" font-family="'Liberation Sans', sans-serif" textLength="16.8" lengthAdjust="spacingAndGlyphs">16%</text>
<text x="838.7" y="593.5" font-size="9" text-anchor="start" fill="#44546A" font-family="'Liberation Sans', sans-serif" textLength="42.2" lengthAdjust="spacingAndGlyphs">Education</text>
<text x="853.8" y="605.1" font-size="9" text-anchor="start" fill="#44546A" font-family="'Liberation Sans', sans-serif" textLength="11.4" lengthAdjust="spacingAndGlyphs">4%</text>
<text x="773.8" y="619.7" font-size="9" text-anchor="start" fill="#44546A" font-family="'Liberation Sans', sans-serif" textLength="50.1" lengthAdjust="spacingAndGlyphs">Engineering</text>
<text x="792.9" y="631.6" font-size="9" text-anchor="start" fill="#44546A" font-family="'Liberation Sans', sans-serif" textLength="11.4" lengthAdjust="spacingAndGlyphs">6%</text>
<text x="701.9" y="622.4" font-size="9" text-anchor="start" fill="#44546A" font-family="'Liberation Sans', sans-serif" textLength="17.3" lengthAdjust="spacingAndGlyphs">Law</text>
<text x="704.8" y="634.3" font-size="9" text-anchor="start" fill="#44546A" font-family="'Liberation Sans', sans-serif" textLength="11.4" lengthAdjust="spacingAndGlyphs">7%</text>
<text x="591.8" y="596.0" font-size="9" text-anchor="start" fill="#44546A" font-family="'Liberation Sans', sans-serif" textLength="33.7" lengthAdjust="spacingAndGlyphs">Medical</text>
<text x="600.1" y="607.7" font-size="9" text-anchor="start" fill="#44546A" font-family="'Liberation Sans', sans-serif" textLength="16.8" lengthAdjust="spacingAndGlyphs">16%</text>
<text x="540.8" y="496.8" font-size="9" text-anchor="start" fill="#44546A" font-family="'Liberation Sans', sans-serif" textLength="50.1" lengthAdjust="spacingAndGlyphs">Science and</text>
<text x="541.9" y="508.7" font-size="9" text-anchor="start" fill="#44546A" font-family="'Liberation Sans', sans-serif" textLength="49.0" lengthAdjust="spacingAndGlyphs">Technology</text>
<text x="557.6" y="520.6" font-size="9" text-anchor="start" fill="#44546A" font-family="'Liberation Sans', sans-serif" textLength="16.8" lengthAdjust="spacingAndGlyphs">15%</text>
<rect x="925.2" y="434.40000000000003" width="6" height="5.7" fill="#428ed7"/>
<text x="933.9" y="440.6" font-size="9" text-anchor="start" fill="#44546A" font-family="'Liberation Sans', sans-serif" textLength="50.4" lengthAdjust="spacingAndGlyphs">Architecture</text>
<rect x="925.2" y="456.46000000000004" width="6" height="5.7" fill="#f26e10"/>
<text x="933.9" y="462.7" font-size="9" text-anchor="start" fill="#44546A" font-family="'Liberation Sans', sans-serif" textLength="15.8" lengthAdjust="spacingAndGlyphs">Arts</text>
<rect x="925.2" y="478.52000000000004" width="6" height="5.7" fill="#9d9d9d"/>
<text x="933.9" y="484.7" font-size="9" text-anchor="start" fill="#44546A" font-family="'Liberation Sans', sans-serif" textLength="34.3" lengthAdjust="spacingAndGlyphs">Business</text>
<rect x="925.2" y="500.58000000000004" width="6" height="5.7" fill="#f2b600"/>
<text x="933.9" y="506.8" font-size="9" text-anchor="start" fill="#44546A" font-family="'Liberation Sans', sans-serif" textLength="39.6" lengthAdjust="spacingAndGlyphs">Education</text>
<rect x="925.2" y="522.64" width="6" height="5.7" fill="#2e62c8"/>
<text x="933.9" y="528.8" font-size="9" text-anchor="start" fill="#44546A" font-family="'Liberation Sans', sans-serif" textLength="47.6" lengthAdjust="spacingAndGlyphs">Engineering</text>
<rect x="925.2" y="544.6999999999999" width="6" height="5.7" fill="#63ab30"/>
<text x="933.9" y="550.9" font-size="9" text-anchor="start" fill="#44546A" font-family="'Liberation Sans', sans-serif" textLength="15.8" lengthAdjust="spacingAndGlyphs">Law</text>
<rect x="925.2" y="566.76" width="6" height="5.7" fill="#175592"/>
<text x="933.9" y="573.0" font-size="9" text-anchor="start" fill="#44546A" font-family="'Liberation Sans', sans-serif" textLength="31.5" lengthAdjust="spacingAndGlyphs">Medical</text>
<rect x="925.2" y="588.8199999999999" width="6" height="5.7" fill="#a93f00"/>
<text x="933.9" y="595.0" font-size="9" text-anchor="start" fill="#44546A" font-family="'Liberation Sans', sans-serif" textLength="47.3" lengthAdjust="spacingAndGlyphs">Science and</text>
<text x="933.9" y="606.9" font-size="9" text-anchor="start" fill="#44546A" font-family="'Liberation Sans', sans-serif" textLength="46.2" lengthAdjust="spacingAndGlyphs">Technology</text>
<path d="M352.8,112.1 L352.8,126.0 L356.4,122.9 L360.2,130.3 L361.9,129.4 L358.2,122.1 L363,122.1 Z" fill="#000"/>
</svg>
</body></html>
